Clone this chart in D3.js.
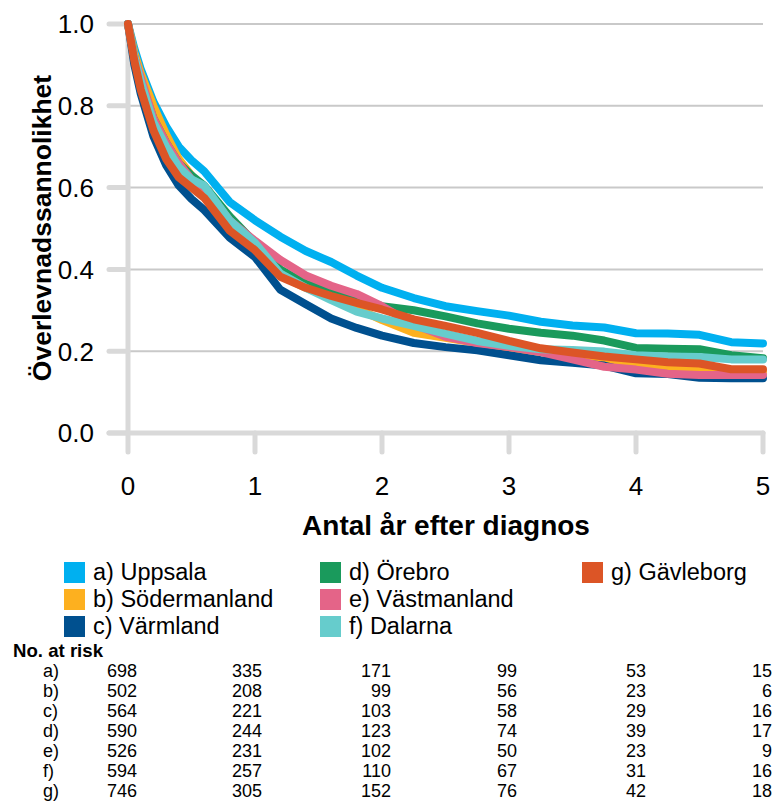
<!DOCTYPE html>
<html>
<head>
<meta charset="utf-8">
<script src="https://cdn.jsdelivr.net/npm/d3@7"></script>
<style>
  body { margin: 0; background: #fff; }
  text { font-family: "Liberation Sans", Arial, sans-serif; fill: #000; }
</style>
</head>
<body>
<div id="chart"></div>
<script>
// survival curves
const TIMES = [0, 0.05, 0.1, 0.2, 0.3, 0.4, 0.5, 0.6, 0.8, 1.0, 1.2, 1.4, 1.6, 1.8, 2.0, 2.25, 2.5, 2.75, 3.0, 3.25, 3.5, 3.75, 4.0, 4.25, 4.5, 4.75, 5.0];

const UPPSALA      = [1, 0.94, 0.89, 0.81, 0.75, 0.70, 0.667, 0.64, 0.565, 0.52, 0.48, 0.445, 0.418, 0.385, 0.355, 0.33, 0.31, 0.298, 0.287, 0.272, 0.263, 0.258, 0.244, 0.243, 0.240, 0.222, 0.219];
const SODERMANLAND = [1, 0.93, 0.88, 0.80, 0.73, 0.67, 0.63, 0.59, 0.50, 0.44, 0.385, 0.355, 0.33, 0.305, 0.276, 0.245, 0.233, 0.22, 0.208, 0.198, 0.19, 0.18, 0.172, 0.16, 0.158, 0.15, 0.15];
const VARMLAND     = [1, 0.90, 0.83, 0.725, 0.655, 0.605, 0.572, 0.545, 0.478, 0.43, 0.35, 0.315, 0.28, 0.257, 0.238, 0.22, 0.21, 0.202, 0.19, 0.178, 0.172, 0.165, 0.146, 0.144, 0.135, 0.134, 0.134];
const OREBRO       = [1, 0.92, 0.86, 0.77, 0.71, 0.66, 0.63, 0.605, 0.53, 0.465, 0.40, 0.365, 0.345, 0.328, 0.31, 0.30, 0.285, 0.268, 0.255, 0.245, 0.238, 0.226, 0.208, 0.206, 0.205, 0.19, 0.183];
const VASTMANLAND  = [1, 0.92, 0.87, 0.77, 0.71, 0.66, 0.62, 0.60, 0.52, 0.47, 0.423, 0.385, 0.36, 0.34, 0.31, 0.265, 0.235, 0.22, 0.21, 0.198, 0.18, 0.162, 0.155, 0.145, 0.142, 0.142, 0.142];
const DALARNA      = [1, 0.92, 0.86, 0.76, 0.70, 0.65, 0.62, 0.605, 0.52, 0.465, 0.39, 0.355, 0.325, 0.297, 0.28, 0.262, 0.243, 0.225, 0.213, 0.205, 0.203, 0.199, 0.19, 0.187, 0.186, 0.18, 0.18];
const GAVLEBORG    = [1, 0.91, 0.84, 0.74, 0.67, 0.625, 0.60, 0.575, 0.495, 0.447, 0.382, 0.355, 0.335, 0.318, 0.302, 0.278, 0.262, 0.245, 0.225, 0.207, 0.197, 0.187, 0.18, 0.173, 0.17, 0.156, 0.156];

const LABELS = ["a) Uppsala", "b) Södermanland", "c) Värmland", "d) Örebro", "e) Västmanland", "f) Dalarna", "g) Gävleborg"];
const COLORS = ["#00B0F0", "#FDB01F", "#00508F", "#1A9A5C", "#E46488", "#66CCCC", "#DC5526"];
const SERIES = [UPPSALA, SODERMANLAND, VARMLAND, OREBRO, VASTMANLAND, DALARNA, GAVLEBORG];

const X_TICKS = [0, 1, 2, 3, 4, 5];
const Y_TICKS = [0, 0.2, 0.4, 0.6, 0.8, 1.0];

// number at risk at 0..5 years
const RISK_ROWS = ["a)", "b)", "c)", "d)", "e)", "f)", "g)"];
const RISK = [
  [698, 335, 171, 99, 53, 15],
  [502, 208, 99, 56, 23, 6],
  [564, 221, 103, 58, 29, 16],
  [590, 244, 123, 74, 39, 17],
  [526, 231, 102, 50, 23, 9],
  [594, 257, 110, 67, 31, 16],
  [746, 305, 152, 76, 42, 18]
];
const RISK_X = [137, 262, 391, 517, 646, 772];

const WIDTH = 774;
const HEIGHT = 804;

const svg = d3.select("#chart").append("svg")
  .attr("width", WIDTH)
  .attr("height", HEIGHT);

const x = d3.scaleLinear().domain([0, 5]).range([128, 763]);
const y = d3.scaleLinear().domain([0, 1]).range([433, 24]);

// GRID
svg.append("g")
  .selectAll("line")
  .data(Y_TICKS.filter(d => d > 0))
  .join("line")
  .attr("x1", x(0)).attr("x2", x(5))
  .attr("y1", d => y(d)).attr("y2", d => y(d))
  .attr("stroke", "#C9C9C9")
  .attr("stroke-width", 2);

// AXES
const AXIS_COLOR = "#D9D9D9";
const axes = svg.append("g")
  .attr("stroke", AXIS_COLOR)
  .attr("stroke-width", 5)
  .attr("stroke-linecap", "round");

axes.append("line")
  .attr("x1", x(0)).attr("x2", x(0))
  .attr("y1", y(1)).attr("y2", y(0));
axes.append("line")
  .attr("x1", x(0) - 19).attr("x2", x(5))
  .attr("y1", y(0)).attr("y2", y(0));
axes.selectAll(".ytick")
  .data(Y_TICKS)
  .join("line")
  .attr("class", "ytick")
  .attr("x1", x(0) - 19).attr("x2", x(0))
  .attr("y1", d => y(d)).attr("y2", d => y(d));
axes.selectAll(".xtick")
  .data(X_TICKS)
  .join("line")
  .attr("class", "xtick")
  .attr("x1", d => x(d)).attr("x2", d => x(d))
  .attr("y1", y(0)).attr("y2", y(0) + 19);

// TICK LABELS
svg.append("g")
  .selectAll("text")
  .data(Y_TICKS)
  .join("text")
  .attr("x", 94)
  .attr("y", d => y(d))
  .attr("dy", "0.36em")
  .attr("text-anchor", "end")
  .style("font-size", "26px")
  .text(d => d3.format(".1f")(d));

svg.append("g")
  .selectAll("text")
  .data(X_TICKS)
  .join("text")
  .attr("x", d => x(d))
  .attr("y", 495)
  .attr("text-anchor", "middle")
  .style("font-size", "26px")
  .text(d => d);

// AXIS TITLES
svg.append("text")
  .attr("x", 446)
  .attr("y", 535)
  .attr("text-anchor", "middle")
  .style("font-size", "28px")
  .style("font-weight", "bold")
  .text("Antal år efter diagnos");

svg.append("text")
  .attr("transform", "translate(41,228) rotate(-90)")
  .attr("text-anchor", "middle")
  .attr("dy", "0.36em")
  .style("font-size", "26.5px")
  .style("font-weight", "bold")
  .text("Överlevnadssannolikhet");

// CURVES
const line = d3.line()
  .x((d, i) => x(TIMES[i]))
  .y(d => y(d));

svg.append("g")
  .selectAll("path")
  .data(SERIES)
  .join("path")
  .attr("d", line)
  .attr("fill", "none")
  .attr("stroke", (d, i) => COLORS[i])
  .attr("stroke-width", 8)
  .attr("stroke-linejoin", "round")
  .attr("stroke-linecap", "round");

// LEGEND
const LEGEND_COL_X = [64, 320, 582];
const LEGEND_ROW_Y = [572, 599, 626];
const legend = svg.append("g")
  .selectAll("g")
  .data(LABELS)
  .join("g")
  .attr("transform", (d, i) => {
    const col = i < 3 ? 0 : (i < 6 ? 1 : 2);
    const row = i < 3 ? i : (i < 6 ? i - 3 : 0);
    return `translate(${LEGEND_COL_X[col]},${LEGEND_ROW_Y[row]})`;
  });
legend.append("rect")
  .attr("x", 0).attr("y", -10)
  .attr("width", 21).attr("height", 21)
  .attr("fill", (d, i) => COLORS[i]);
legend.append("text")
  .attr("x", 29)
  .attr("dy", "0.36em")
  .style("font-size", "23.5px")
  .text(d => d);

// RISK TABLE
svg.append("text")
  .attr("x", 13)
  .attr("y", 657)
  .attr("textLength", 90)
  .attr("lengthAdjust", "spacingAndGlyphs")
  .style("font-size", "18.5px")
  .style("font-weight", "bold")
  .text("No. at risk");

const riskRows = svg.append("g")
  .selectAll("g")
  .data(RISK)
  .join("g")
  .attr("transform", (d, i) => `translate(0,${677 + i * 20})`);
riskRows.append("text")
  .attr("x", 43)
  .style("font-size", "18px")
  .text((d, i) => RISK_ROWS[i]);
riskRows.selectAll(".val")
  .data(d => d)
  .join("text")
  .attr("class", "val")
  .attr("x", (d, j) => RISK_X[j])
  .attr("text-anchor", "end")
  .style("font-size", "18px")
  .text(d => d);
</script>
</body>
</html>
